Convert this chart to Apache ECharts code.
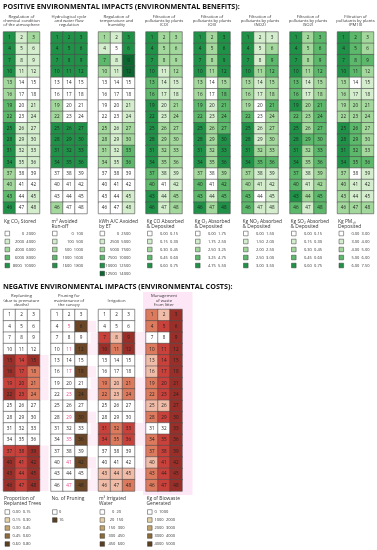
<!DOCTYPE html>
<html><head><meta charset="utf-8">
<script src="https://cdn.jsdelivr.net/npm/echarts@6/dist/echarts.min.js"></script>
<style>html,body{margin:0;padding:0;background:#fff}#c{width:377px;height:550px}</style>
</head><body><div id="c"></div>
<script>
// ---------- categories ----------
const colLabels = ['A', 'B', 'C'];
const rowLabels = ['1','2','3','4','5','6','7','8','9','10','11','12','13','14','15','16'];

// ---------- positive impacts (values per cell 1..48) ----------
const co2Stored = [
9000,3000,5000, 9000,3000,3000, 9000,3000,3000, 9000,3000,3000,
5000,1000,1000, 5000,1000,1000, 7000,1000,3000, 7000,1000,3000,
9000,3000,3000, 9000,3000,3000, 9000,3000,3000, 9000,3000,3000,
5000,1000,1000, 5000,1000,1000, 7000,1000,3000, 9000,1000,3000];
const avoidedRunoff = [
1700,1700,1700, 1700,1700,1700, 1700,1700,1700, 1700,1700,1700,
50,50,50, 50,50,50, 750,50,50, 750,50,50,
1700,1700,1700, 1700,1700,1700, 1700,1700,1700, 1700,1700,1700,
50,50,50, 50,50,50, 50,50,50, 750,50,50];
const acAvoided = [
6250,3750,11250, 3750,1250,11250, 8750,3750,13250, 6250,3750,13250,
1250,1250,1250, 1250,1250,1250, 1250,1250,3750, 1250,1250,3750,
6250,3750,6250, 6250,3750,6250, 6250,3750,8750, 6250,3750,8750,
1250,1250,1250, 1250,1250,1250, 1250,1250,3750, 1250,1250,3750];
const coDeposited = [
0.68,0.38,0.38, 0.68,0.38,0.38, 0.68,0.38,0.38, 0.68,0.22,0.38,
0.52,0.22,0.22, 0.52,0.22,0.22, 0.68,0.22,0.38, 0.68,0.22,0.38,
0.68,0.38,0.38, 0.68,0.38,0.38, 0.68,0.38,0.38, 0.68,0.38,0.38,
0.52,0.22,0.22, 0.52,0.08,0.22, 0.68,0.22,0.38, 0.68,0.22,0.38];
const o3Deposited = [
5.1,2.9,5.1, 5.1,2.9,5.1, 5.1,2.9,5.1, 5.1,2.9,5.1,
2.9,1.0,2.9, 2.9,1.0,4.0, 4.0,2.1,4.0, 4.0,2.1,4.0,
5.1,2.9,4.0, 5.1,2.9,5.1, 5.1,2.9,5.1, 5.1,2.9,5.1,
2.9,1.0,2.9, 4.0,1.0,4.0, 4.0,2.1,4.0, 5.1,2.9,5.1];
const no2Deposited = [
3.25,1.75,1.75, 3.25,1.75,2.25, 3.25,1.75,2.75, 3.25,2.25,2.75,
2.25,1.75,2.25, 2.25,1.75,2.25, 2.25,0.8,2.75, 2.75,0.8,2.25,
3.25,1.75,2.25, 3.25,1.75,2.25, 3.25,2.25,2.25, 3.25,2.75,2.75,
2.25,1.75,1.75, 2.25,1.75,1.75, 2.75,0.8,1.75, 2.75,1.75,1.75];
const so2Deposited = [
0.68,0.38,0.52, 0.68,0.38,0.52, 0.68,0.38,0.52, 0.68,0.38,0.52,
0.52,0.22,0.38, 0.52,0.22,0.38, 0.68,0.38,0.52, 0.52,0.38,0.52,
0.68,0.38,0.52, 0.68,0.52,0.52, 0.68,0.38,0.52, 0.68,0.38,0.52,
0.52,0.22,0.38, 0.52,0.22,0.38, 0.68,0.38,0.52, 0.52,0.22,0.52];
const pm10Deposited = [
6.8,5.5,4.5, 6.8,5.5,4.5, 6.8,5.5,5.5, 6.8,5.5,4.5,
4.5,2.0,3.5, 4.5,3.5,3.5, 4.5,4.5,4.5, 4.5,4.5,4.5,
6.8,5.5,4.5, 6.8,5.5,4.5, 6.8,5.5,4.5, 6.8,5.5,5.5,
4.5,2.0,3.5, 4.5,3.5,3.5, 4.5,3.5,3.5, 4.5,4.5,4.5];

// ---------- negative impacts ----------
const replantedShare = [
0,0,0, 0,0,0, 0,0,0, 0,0,0,
0.70,0.52,0.70, 0.70,0.52,0.38, 0.52,0.52,0.38, 0.70,0.52,0.38,
0,0,0, 0,0,0, 0,0,0, 0,0,0,
0.52,0.52,0.70, 0.70,0.52,0.70, 0.70,0.52,0.70, 0.70,0.52,0.70];
const pruningCount = [
0,0,0, 0,0,16, 0,0,0, 0,0,16,
0,0,0, 0,0,16, 0,0,0, 0,0,16,
0,0,0, 0,0,16, 0,0,0, 0,0,16,
0,0,0, 0,0,16, 0,0,0, 0,0,16];
const irrigatedWater = [
0,0,0, 0,0,0, 375,85,525, 525,225,525,
0,0,0, 0,0,0, 225,85,225, 225,85,225,
0,0,0, 0,0,0, 375,225,375, 375,225,375,
0,0,0, 0,0,0, 85,85,85, 85,85,225];
const biowaste = [
2500,1500,4500, 2500,3500,4500, 600,700,4500, 2500,3500,4500,
1500,3500,4500, 1500,3500,4500, 2500,3500,4500, 2500,3500,4500,
1500,1500,4500, 2500,3500,4500, 600,700,4500, 2500,3500,4500,
2500,3500,4500, 1500,3500,4500, 2500,3500,4500, 2500,3500,4500];

// ---------- legend classes ----------
const co2Bins = [0,2000,4000,6000,8000,10000];
const runoffBins = [0,100,500,1000,1600,1800];
const acBins = [0,2500,5000,7500,10000,12500,14000];
const coBins = [0,0.15,0.30,0.45,0.60,0.75];
const o3Bins = [0,1.75,2.50,3.25,4.75,5.50];
const no2Bins = [0,1.50,2.00,2.50,3.00,3.50];
const so2Bins = [0,0.15,0.30,0.45,0.60,0.75];
const pm10Bins = [0,3.00,4.00,5.00,6.00,7.50];
const replantBins = [0,0.15,0.30,0.45,0.60,0.80];
const pruningClasses = [0,16];
const irrigBins = [0,20,150,300,450,600];
const wasteBins = [0,1000,2000,3000,4000,5000];

// ---------- texts ----------
const posTitle = 'POSITIVE ENVIRONMENTAL IMPACTS (ENVIRONMENTAL BENEFITS):';
const negTitle = 'NEGATIVE ENVIRONMENTAL IMPACTS (ENVIRONMENTAL COSTS):';
const posPanelTitles = [
  'Regulation of\nchemical condition\nof the atmosphere',
  'Hydrological cycle\nand water flow\nregulation',
  'Regulation of\ntemperature and\nhumidity',
  'Filtration of\npollutants by plants\n(CO)',
  'Filtration of\npollutants by plants\n(O3)',
  'Filtration of\npollutants by plants\n(NO2)',
  'Filtration of\npollutants by plants\n(SO2)',
  'Filtration of\npollutants by plants\n(PM10)'];
const posUnits = ['Kg CO\u2082 Stored', 'm\u00b3 Avoided\nRun-off', 'kWh A/C Avoided\nby ET',
  'Kg CO Absorbed\n& Deposited', 'Kg O\u2083 Absorbed\n& Deposited', 'Kg NO\u2082 Absorbed\n& Deposited',
  'Kg SO\u2082 Absorbed\n& Deposited', 'Kg PM\u2081\u2080\nDeposited'];
const negPanelTitles = ['Replanting\n(due to premature\ndeaths)', 'Pruning for\nmaintenance of\nthe canopy',
  'Irrigation', 'Management\nof waste\nfrom litter'];
const negUnits = ['Proportion of\nReplanted Trees', 'No. of Pruning', 'm\u00b3 Irrigated\nWater', 'Kg of Biowaste\nGenerated'];

// ---------- styling ----------
const FONT = "'Open Sans', 'Liberation Sans', sans-serif";
const greens = ['#ffffff','#d3edcd','#a3d89c','#5cb86a','#1f9248','#0c6630'];
const cellReds = ['#ffffff','#f0bca8','#dc7a5e','#c9413b','#992f28'];
const pruneCell = ['#ffffff','#6a4526'];
const browns = ['#ffffff','#e5d4a9','#c2a46c','#8d6b3b','#5b4022'];
const pruneLegend = ['#ffffff','#5b4022'];
const W = 36, H = 181.5;
const lefts = [3.5, 51, 98.5, 146, 194, 242, 290, 337.5];
const topY = 32, botY = 309.5;

const fmt = (v, d) => d ? v.toFixed(d) : String(v);

const panels = [];
const posData = [co2Stored, avoidedRunoff, acAvoided, coDeposited, o3Deposited, no2Deposited, so2Deposited, pm10Deposited];
const posBins = [co2Bins, runoffBins, acBins, coBins, o3Bins, no2Bins, so2Bins, pm10Bins];
const posDec = [0,0,0,2,2,2,2,2];
posData.forEach((d, i) => panels.push({
  data: d, bins: posBins[i], dec: posDec[i], cell: greens, leg: greens,
  title: posPanelTitles[i], unit: posUnits[i], left: lefts[i], top: topY,
  titleY: 14.6, titleLH: 3.9, unitY: 218.6, itemY0: 233.5, txtAlign: 'right', txtX: 32
}));
const negData = [replantedShare, pruningCount, irrigatedWater, biowaste];
const negBins = [replantBins, null, irrigBins, wasteBins];
const negDec = [2,0,0,0];
const negTxt = [['left',9],['left',8],['center',18],['left',8.5]];
negData.forEach((d, i) => panels.push({
  data: d, bins: negBins[i], cats: i === 1 ? pruningClasses : null, dec: negDec[i],
  cell: i === 1 ? pruneCell : cellReds, leg: i === 1 ? pruneLegend : browns,
  title: negPanelTitles[i], unit: negUnits[i], left: lefts[i], top: botY,
  titleY: 300.5, titleLH: 4.6, centerTitle: true, unitY: 495.6, itemY0: 512, txtAlign: negTxt[i][0], txtX: negTxt[i][1],
  pruning: i === 1
}));

const grid = [], xAxis = [], yAxis = [], series = [], visualMap = [], graphic = [];

// pink background behind waste panel and bleed near coloured rows (reference tint)
graphic.push({type:'rect', shape:{x:143, y:292, width:49.5, height:203}, style:{fill:'#fde7f6'}, z:-10, silent:true});

panels.forEach((p, i) => {
  grid.push({left: p.left, top: p.top, width: W, height: H});
  xAxis.push({type:'category', gridIndex:i, data: colLabels, show:false});
  yAxis.push({type:'category', gridIndex:i, data: rowLabels, inverse:true, show:false});
  const d = p.data.map((v, k) => [k % 3, Math.floor(k / 3), v]);
  series.push({
    type:'heatmap', xAxisIndex:i, yAxisIndex:i, data:d, silent:true,
    itemStyle:{borderColor:'#4d4d4d', borderWidth:0.6},
    label:{show:true, fontSize:4.6, fontFamily:FONT,
      formatter: q => String(q.dataIndex + 1),
      color: '#222',
      rich:{r:{color:'#e8407f', fontSize:4.6, fontFamily:FONT}}},
    emphasis:{disabled:true}
  });
  if (p.pruning) {
    series[i].label.formatter = q => {
      const k = q.dataIndex, row = Math.floor(k / 3);
      return (k % 3 === 1 && p.data[row * 3 + 2] > 0) ? '{r|' + (k + 1) + '}' : String(k + 1);
    };
  }
  let pieces;
  if (p.cats) pieces = p.cats.map((c, j) => ({value:c, color:p.cell[j]}));
  else pieces = p.bins.slice(0, -1).map((b, j) => {
    const pc = {gte:b, color:p.cell[j]};
    if (j < p.bins.length - 2) pc.lt = p.bins[j + 1]; else pc.lte = p.bins[j + 1];
    return pc;
  });
  visualMap.push({type:'piecewise', show:false, seriesIndex:i, dimension:2, pieces});

  // bleed tint for bottom panels (rows having non-zero values)
  if (p.top === botY && i < 11) {
    for (let r = 0; r < 16; r++) {
      const rowVals = p.data.slice(r * 3, r * 3 + 3);
      if (Math.max(...rowVals) > 0) {
        const y = p.top + r * H / 16;
        graphic.push({type:'rect', shape:{x:p.left + W, y:y, width:9, height:H / 16}, style:{fill:'#fdebf6'}, z:-10, silent:true});
        if (i !== 9) graphic.push({type:'rect', shape:{x:p.left - 8, y:y, width:8, height:H / 16}, style:{fill:'#fdeff8'}, z:-10, silent:true});
      }
    }
  }

  // panel title
  const nLines = p.title.split('\n').length;
  const ty = p.centerTitle ? p.titleY - nLines * p.titleLH / 2 : p.titleY;
  graphic.push({type:'text', x:p.left + W / 2, y:ty, silent:true,
    style:{text:p.title, fontSize:4.2, lineHeight:p.titleLH, fontFamily:FONT, fill:'#333', align:'center', verticalAlign:'top'}});
  // legend title
  graphic.push({type:'text', x:p.left + 0.5, y:p.unitY, silent:true,
    style:{text:p.unit, fontSize:4.9, lineHeight:5.4, fontFamily:FONT, fill:'#333', align:'left', verticalAlign:'top'}});
  // legend items
  const labels = p.cats ? p.cats.map(c => String(c))
    : p.bins.slice(0, -1).map((b, j) => fmt(b, p.dec) + '~' + fmt(p.bins[j + 1], p.dec));
  labels.forEach((t, j) => {
    const cy = p.itemY0 + j * 8;
    graphic.push({type:'rect', silent:true, shape:{x:p.left + 1.5, y:cy - 2.3, width:4.6, height:4.6},
      style:{fill:p.leg[j], stroke:'#3a3a3a', lineWidth:0.5}});
    graphic.push({type:'text', silent:true, x:p.left + p.txtX, y:cy,
      style:{text:t, fontSize:4, fontFamily:FONT, fill:'#333', align:p.txtAlign, verticalAlign:'middle'}});
  });
});

graphic.push({type:'text', x:3, y:6.5, silent:true,
  style:{text:posTitle, fontSize:7.2, fontWeight:'bold', fontFamily:FONT, fill:'#111', verticalAlign:'middle'}});
graphic.push({type:'text', x:3, y:287, silent:true,
  style:{text:negTitle, fontSize:7.2, fontWeight:'bold', fontFamily:FONT, fill:'#111', verticalAlign:'middle'}});

const chart = echarts.init(document.getElementById('c'), null, {renderer:'canvas'});
chart.setOption({animation:false, backgroundColor:'#ffffff', grid, xAxis, yAxis, series, visualMap, graphic});
</script>
</body></html>
